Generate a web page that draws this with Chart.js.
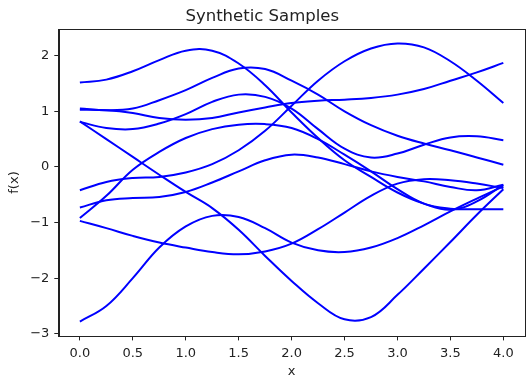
<!DOCTYPE html>
<html>
<head>
<meta charset="utf-8">
<script src="https://cdn.jsdelivr.net/npm/chart.js@4"></script>
<style>
  html, body { margin: 0; padding: 0; background: #fff; }
  canvas { display: block; }
</style>
</head>
<body>
<canvas id="chart" width="528" height="380"></canvas>
<script>
// sample positions along x
const xs = [0, 0.25, 0.5, 0.75, 1, 1.25, 1.5, 1.75, 2, 2.25, 2.5, 2.75, 3, 3.25, 3.5, 3.75, 4];

// ten GP samples
const sampleA = [1.52, 1.57, 1.72, 1.92, 2.09, 2.09, 1.86, 1.47, 0.98, 0.52, 0.12, -0.18, -0.46, -0.66, -0.77, -0.62, -0.32];
const sampleB = [1.05, 1.02, 1.05, 1.2, 1.38, 1.6, 1.77, 1.76, 1.55, 1.3, 1.0, 0.75, 0.56, 0.42, 0.3, 0.17, 0.04];
const sampleC = [1.03, 1.02, 0.97, 0.88, 0.85, 0.88, 0.98, 1.07, 1.15, 1.19, 1.21, 1.24, 1.3, 1.4, 1.55, 1.7, 1.87];
const sampleD = [0.81, 0.7, 0.68, 0.78, 0.95, 1.17, 1.3, 1.26, 1.05, 0.68, 0.33, 0.17, 0.24, 0.4, 0.53, 0.55, 0.48];
const sampleE = [-0.42, -0.27, -0.2, -0.18, -0.1, 0.05, 0.3, 0.65, 1.1, 1.55, 1.9, 2.13, 2.22, 2.15, 1.9, 1.55, 1.15];
const sampleF = [-0.92, -0.52, -0.05, 0.27, 0.52, 0.68, 0.76, 0.77, 0.7, 0.5, 0.22, -0.08, -0.4, -0.66, -0.75, -0.76, -0.76];
const sampleG = [-0.73, -0.6, -0.56, -0.54, -0.45, -0.28, -0.08, 0.12, 0.22, 0.17, 0.05, -0.08, -0.18, -0.26, -0.36, -0.42, -0.32];
const sampleH = [0.82, 0.5, 0.18, -0.14, -0.45, -0.74, -1.13, -1.6, -2.05, -2.45, -2.74, -2.7, -2.3, -1.83, -1.35, -0.86, -0.4];
const sampleK = [-0.97, -1.1, -1.24, -1.36, -1.45, -1.53, -1.57, -1.52, -1.38, -1.12, -0.82, -0.52, -0.3, -0.22, -0.24, -0.3, -0.38];
const sampleL = [-2.78, -2.5, -2.0, -1.45, -1.07, -0.88, -0.9, -1.1, -1.36, -1.5, -1.53, -1.45, -1.28, -1.05, -0.8, -0.57, -0.35];

const samples = [sampleA, sampleB, sampleC, sampleD, sampleE, sampleF, sampleG, sampleH, sampleK, sampleL];

const xTicks = [0, 0.5, 1, 1.5, 2, 2.5, 3, 3.5, 4];
const yTicks = [-3, -2, -1, 0, 1, 2];

const font = "'DejaVu Sans', sans-serif";
const ink = '#222';

const frame = {
  id: 'frame',
  afterDatasetsDraw(chart) {
    const a = chart.chartArea;
    const ctx = chart.ctx;
    ctx.save();
    ctx.strokeStyle = ink;
    ctx.lineWidth = 1;
    ctx.strokeRect(Math.round(a.left) + 0.5, Math.round(a.top) + 0.5,
                   Math.round(a.right - a.left), Math.round(a.bottom - a.top));
    ctx.restore();
  }
};

new Chart(document.getElementById('chart'), {
  type: 'line',
  data: {
    datasets: samples.map(s => ({
      data: s.map((y, i) => ({ x: xs[i], y: y })),
      borderColor: '#0000ff',
      borderWidth: 2,
      pointRadius: 0,
      tension: 0.4,
      fill: false
    }))
  },
  options: {
    responsive: false,
    animation: false,
    devicePixelRatio: 1,
    layout: { padding: { left: 0, right: 3.5, top: 0, bottom: 0 } },
    plugins: {
      legend: { display: false },
      tooltip: { enabled: false },
      title: {
        display: true,
        text: 'Synthetic Samples',
        color: ink,
        font: { family: font, size: 16.5, weight: 'normal' },
        padding: { top: 6.5, bottom: 2.7 }
      }
    },
    scales: {
      x: {
        type: 'linear',
        min: -0.2,
        max: 4.2,
        afterBuildTicks: s => { s.ticks = xTicks.map(v => ({ value: v })); },
        afterFit: s => { s.height = 44; },
        grid: { drawOnChartArea: false, drawTicks: true, tickLength: 4.4, color: ink },
        border: { display: true, color: ink },
        ticks: {
          color: ink, padding: 5, maxRotation: 0,
          font: { family: font, size: 13 },
          callback: v => v.toFixed(1)
        },
        title: {
          display: true, text: 'x', color: ink,
          font: { family: font, size: 13 },
          padding: { top: 0, bottom: 0.5 }
        }
      },
      y: {
        type: 'linear',
        min: -3.04,
        max: 2.48,
        afterBuildTicks: s => { s.ticks = yTicks.map(v => ({ value: v })); },
        afterFit: s => { s.width = 58.7; },
        grid: { drawOnChartArea: false, drawTicks: true, tickLength: 4.4, color: ink },
        border: { display: true, color: ink },
        ticks: {
          color: ink, padding: 5,
          font: { family: font, size: 13 },
          callback: v => v < 0 ? '\u2212' + Math.abs(v) : String(v)
        },
        title: {
          display: true, text: 'f(x)', color: ink,
          font: { family: font, size: 13 },
          padding: { top: 7, bottom: 0 }
        }
      }
    }
  },
  plugins: [frame]
});
</script>
</body>
</html>
